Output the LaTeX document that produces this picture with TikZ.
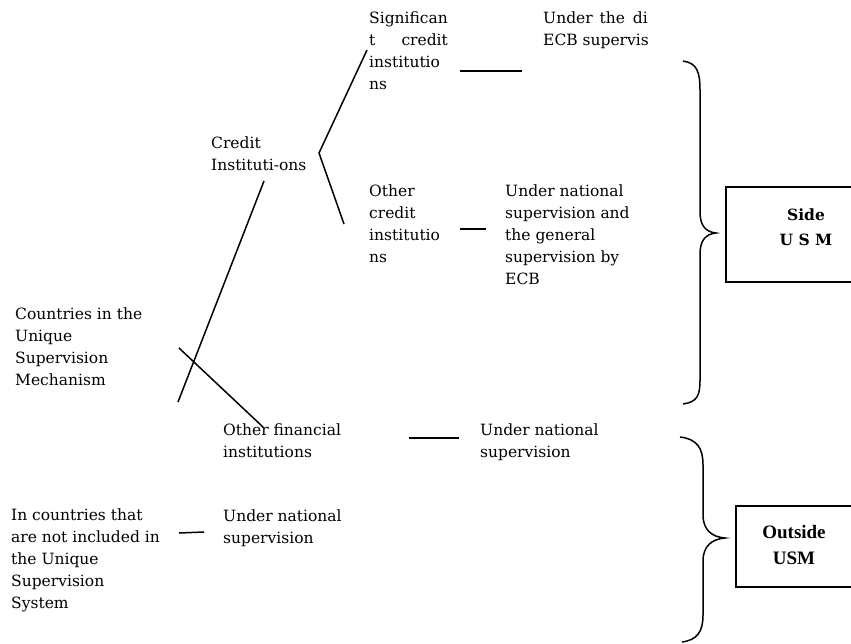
\documentclass[tikz,border=0pt]{standalone}
\usepackage{fontspec}
\setmainfont{DejaVu Serif}
\newfontfamily\timesfont{Liberation Serif}
\usepackage{tikz}

\begin{document}
\begin{tikzpicture}[x=1pt,y=-1pt,
  txt/.style={anchor=base west, align=left, inner sep=0pt, font=\fontsize{15.5}{21.8}\selectfont},
  boxtxt/.style={align=center, inner sep=0pt, font=\bfseries\fontsize{15.5}{25}\selectfont},
  link/.style={line width=1.5pt}]
\clip (0,0) rectangle (851,643);
\coordinate (fork) at (319,153);
\coordinate (sigend) at (367,50);
\coordinate (othend) at (344,224);
\coordinate (cilow) at (178,402);
\coordinate (citop) at (264,181);
\coordinate (crossa) at (179,348);
\coordinate (crossb) at (263,427);
\coordinate (siga) at (460,71);
\coordinate (sigb) at (522,71);
\coordinate (otha) at (460,229);
\coordinate (othb) at (486,229);
\coordinate (fina) at (409,438);
\coordinate (finb) at (459,438);
\coordinate (outa) at (179,533);
\coordinate (outb) at (204,532);
% labels blocks (placed at the baseline of their last line)
\node[txt] (sig) at (369,89) {Significan\\t\hfill credit\\institutio\\ns};
\node[txt] (ecbdirect) at (543,45) {Under\hspace{2pt} the\hspace{3pt} di\\ECB supervis};
\node[txt] (credit) at (211,170) {Credit\\Instituti-ons};
\node[txt] (othcredit) at (369,262) {Other\\credit\\institutio\\ns};
\node[txt] (ecbgeneral) at (505,284) {Under national\\supervision and\\the general\\supervision by\\ECB};
\node[txt] (countries) at (15,385) {Countries in the\\Unique\\Supervision\\Mechanism};
\node[txt] (othfin) at (223,457) {Other financial\\institutions};
\node[txt] (natmid) at (480,457) {Under national\\supervision};
\node[txt] (notincl) at (11,608) {In countries that\\are not included in\\the Unique\\Supervision\\System};
\node[txt] (natbot) at (223,543) {Under national\\supervision};
% side boxes
\draw[line width=1.2pt] (726,187) rectangle (880,282);
\node[boxtxt] (side) at (806,227) {Side\\U S M};
\draw[line width=1.2pt] (736,506) rectangle (880,587);
\node[boxtxt, font=\timesfont\bfseries\fontsize{19}{26}\selectfont] (outside) at (794,545) {Outside\\USM};
\begin{scope}[link]
% draws lines
\draw (cilow) -- (citop);
\draw (crossa) -- (crossb);
\draw (sigend) -- (fork) -- (othend);
\draw (siga) -- (sigb);
\draw (otha) -- (othb);
\draw (fina) -- (finb);
\draw (outa) -- (outb);
% draws braces
\draw (683,61) .. controls (697,63) and (700,72) .. (700,90) -- (700,212)
  .. controls (700,226) and (706,232) .. (716,233)
  .. controls (706,234) and (700,240) .. (700,254) -- (700,380)
  .. controls (700,396) and (697,402) .. (683,404);
\draw (680,437) .. controls (697,439) and (703,448) .. (703,465) -- (703,515)
  .. controls (703,530) and (712,537) .. (725,538)
  .. controls (712,539) and (703,546) .. (703,561) -- (703,615)
  .. controls (703,632) and (697,640) .. (682,642);
\end{scope}
\end{tikzpicture}
\end{document}
